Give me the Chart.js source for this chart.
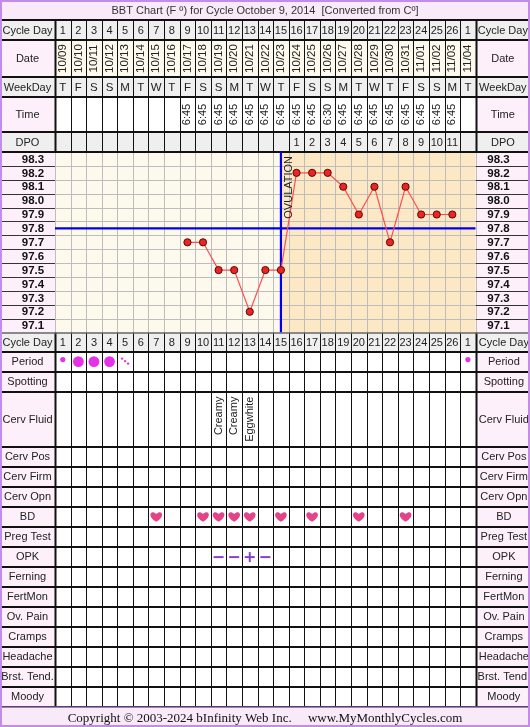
<!DOCTYPE html>
<html>
<head>
<meta charset="utf-8">
<title>BBT Chart</title>
<script src="https://cdn.jsdelivr.net/npm/chart.js@4.4.0/dist/chart.umd.min.js"></script>
<style>
    html, body { margin: 0; padding: 0; background: #fff; }
    canvas { display: block; }
</style>
</head>
<body>
<canvas id="bbtChart" width="530" height="727" style="width:530px;height:727px"></canvas>
<script>
// ============================================================================
// BBT CHART - Cycle October 9, 2014
// ============================================================================

// ---- data ----
const cycleDays = [1, 2, 3, 4, 5, 6, 7, 8, 9, 10, 11, 12, 13, 14, 15, 16, 17, 18, 19, 20, 21, 22, 23, 24, 25, 26, 1];
const dates = ["10/09", "10/10", "10/11", "10/12", "10/13", "10/14", "10/15", "10/16", "10/17", "10/18",
    "10/19", "10/20", "10/21", "10/22", "10/23", "10/24", "10/25", "10/26", "10/27", "10/28",
    "10/29", "10/30", "10/31", "11/01", "11/02", "11/03", "11/04"];
const weekDays = ["T", "F", "S", "S", "M", "T", "W", "T", "F", "S", "S", "M", "T", "W", "T", "F", "S", "S", "M", "T", "W", "T", "F", "S", "S", "M", "T"];
const times = ["", "", "", "", "", "", "", "", "6:45", "6:45", "6:45", "6:45", "6:45", "6:45", "6:45", "6:45",
    "6:45", "6:30", "6:45", "6:45", "6:45", "6:45", "6:45", "6:45", "6:45", "6:45", ""];
const dpo = ["", "", "", "", "", "", "", "", "", "", "", "", "", "", "", "1", "2", "3", "4", "5", "6", "7", "8", "9", "10", "11", ""];
const temps = [null, null, null, null, null, null, null, null, 97.7, 97.7, 97.5, 97.5, 97.2, 97.5, 97.5,
    98.2, 98.2, 98.2, 98.1, 97.9, 98.1, 97.7, 98.1, 97.9, 97.9, 97.9, null];
const tempTicks = [98.3, 98.2, 98.1, 98.0, 97.9, 97.8, 97.7, 97.6, 97.5, 97.4, 97.3, 97.2, 97.1];
const coverline = 97.8;
const ovulationDay = 15;

const period = ["light", "heavy", "heavy", "heavy", "spot", "", "", "", "", "", "", "", "", "", "",
    "", "", "", "", "", "", "", "", "", "", "", "light"];
const cervFluid = ["", "", "", "", "", "", "", "", "", "", "Creamy", "Creamy", "Eggwhite", "", "", "",
    "", "", "", "", "", "", "", "", "", "", ""];
const bd = [0, 0, 0, 0, 0, 0, 1, 0, 0, 1, 1, 1, 1, 0, 1, 0, 1, 0, 0, 1, 0, 0, 1, 0, 0, 0, 0];
const opk = ["", "", "", "", "", "", "", "", "", "", "-", "-", "+", "-", "", "", "", "", "", "", "", "", "", "", "", "", ""];

const lowerLabels = ["Cycle Day", "Period", "Spotting", "Cerv Fluid", "Cerv Pos", "Cerv Firm", "Cerv Opn", "BD",
    "Preg Test", "OPK", "Ferning", "FertMon", "Ov. Pain", "Cramps", "Headache", "Brst. Tend.", "Moody"];

const titleText = "BBT Chart (F \u00BA) for Cycle October 9, 2014  [Converted from C\u00BA]";
const footerText = "Copyright \u00A9 2003-2024 bInfinity Web Inc.     www.MyMonthlyCycles.com";

// ---- layout ----
const W = 530, H = 727;
const LABEL_W = 55;
const RIGHT_LABEL_X = 475.7;
const TITLE_H = 20;
const upperHeights = [20, 37, 20, 35, 20];
const lowerHeights = [19, 20, 20, 55, 20, 20, 20, 20, 20, 20, 20, 20, 20, 20, 20, 20, 20];
const PLOT_TOP = TITLE_H + upperHeights.reduce((a, b) => a + b, 0);
const PLOT_BOTTOM = 332.6;

const GRAY = "#efefef";
const LAV = "#fdf0fb";
const CREAM = "#fdf9ec";
const PEACH = "#fde8c6";
const PINK_HEAD = "#f8eaf8";
const PURPLE = "#c58be8";
const FONT = "'Liberation Sans', Arial, sans-serif";

function txt(ctx, s, x, y, font, color, rot) {
    ctx.save();
    ctx.font = font;
    ctx.fillStyle = color || "#222";
    ctx.textAlign = "center";
    ctx.textBaseline = "middle";
    ctx.translate(x, y);
    if (rot) ctx.rotate(-Math.PI / 2);
    ctx.fillText(s, 0, 0);
    ctx.restore();
}

function hline(ctx, x0, x1, y, w, color) {
    ctx.save();
    ctx.strokeStyle = color;
    ctx.lineWidth = w;
    ctx.beginPath();
    ctx.moveTo(x0, y);
    ctx.lineTo(x1, y);
    ctx.stroke();
    ctx.restore();
}

function vline(ctx, x, y0, y1, w, color) {
    ctx.save();
    ctx.strokeStyle = color;
    ctx.lineWidth = w;
    ctx.beginPath();
    ctx.moveTo(x, y0);
    ctx.lineTo(x, y1);
    ctx.stroke();
    ctx.restore();
}

function heart(ctx, cx, cy, s) {
    ctx.save();
    ctx.fillStyle = "#e4438a";
    ctx.beginPath();
    ctx.moveTo(cx, cy + s * 0.5);
    ctx.bezierCurveTo(cx - s * 0.95, cy - s * 0.05, cx - s * 0.5, cy - s * 0.75, cx, cy - s * 0.25);
    ctx.bezierCurveTo(cx + s * 0.5, cy - s * 0.75, cx + s * 0.95, cy - s * 0.05, cx, cy + s * 0.5);
    ctx.fill();
    ctx.restore();
}

function dot(ctx, x, y, r) {
    ctx.save();
    ctx.fillStyle = "#e632e6";
    ctx.beginPath();
    ctx.arc(x, y, r, 0, Math.PI * 2);
    ctx.fill();
    ctx.restore();
}

const tablePlugin = {
    id: "cycleTable",
    beforeDraw(chart) {
        const ctx = chart.ctx;
        const xs = chart.scales.x;
        const ys = chart.scales.y;
        const ca = chart.chartArea;
        const nDays = cycleDays.length;
        const cx = d => xs.getPixelForValue(d + 1);
        const edge = d => xs.getPixelForValue(d + 0.5);
        const rightMid = (RIGHT_LABEL_X + W) / 2;
        const labelFont = "11px " + FONT;

        ctx.save();
        ctx.fillStyle = "#fff";
        ctx.fillRect(0, 0, W, H);

        // title
        ctx.fillStyle = PINK_HEAD;
        ctx.fillRect(0, 0, W, TITLE_H);
        txt(ctx, titleText, W / 2, 10.5, "11px " + FONT, "#333");

        // upper table
        const upperRows = [
            { label: "Cycle Day", lbg: GRAY, bg: GRAY, vals: cycleDays, font: "11px " + FONT },
            { label: "Date", lbg: LAV, bg: CREAM, vals: dates, font: "11.5px " + FONT, rot: true },
            { label: "WeekDay", lbg: GRAY, bg: GRAY, vals: weekDays, font: "11.5px " + FONT },
            { label: "Time", lbg: LAV, bg: "#fff", vals: times, font: "11px " + FONT, rot: true },
            { label: "DPO", lbg: GRAY, bg: GRAY, vals: dpo, font: "11px " + FONT }
        ];
        let y = TITLE_H;
        const upperLines = [y];
        upperRows.forEach((row, r) => {
            const h = upperHeights[r];
            const mid = y + h / 2;
            ctx.fillStyle = row.lbg;
            ctx.fillRect(0, y, LABEL_W, h);
            ctx.fillRect(RIGHT_LABEL_X, y, W - RIGHT_LABEL_X, h);
            ctx.fillStyle = row.bg;
            ctx.fillRect(LABEL_W, y, RIGHT_LABEL_X - LABEL_W, h);
            txt(ctx, row.label, LABEL_W / 2, mid + 0.5, labelFont);
            txt(ctx, row.label, rightMid, mid + 0.5, labelFont);
            row.vals.forEach((v, d) => {
                if (v !== "" && v !== null) txt(ctx, String(v), cx(d), mid + (row.rot ? 0 : 0.5), row.font, "#222", row.rot);
            });
            y += h;
            upperLines.push(y);
        });

        // plot backgrounds
        const ovX = xs.getPixelForValue(ovulationDay);
        ctx.fillStyle = CREAM;
        ctx.fillRect(ca.left, ca.top, ovX - ca.left, ca.bottom - ca.top);
        ctx.fillStyle = PEACH;
        ctx.fillRect(ovX, ca.top, ca.right - ovX, ca.bottom - ca.top);
        ctx.fillStyle = LAV;
        ctx.fillRect(0, ca.top, LABEL_W, ca.bottom - ca.top);
        ctx.fillRect(RIGHT_LABEL_X, ca.top, W - RIGHT_LABEL_X, ca.bottom - ca.top);

        // plot grid
        for (let d = 0; d <= nDays; d++) {
            vline(ctx, Math.round(edge(d)) + 0.5, ca.top, ca.bottom, 1, "#bdbdbd");
        }
        tempTicks.forEach((t, i) => {
            const yy = ys.getPixelForValue(t);
            txt(ctx, t.toFixed(1), 33, yy + 0.5, "bold 11.5px " + FONT, "#111");
            txt(ctx, t.toFixed(1), 498.5, yy + 0.5, "bold 11.5px " + FONT, "#111");
            if (i > 0) {
                const yl = Math.round(ys.getPixelForValue(t + 0.05)) + 0.5;
                hline(ctx, ca.left, ca.right, yl, 1, "#bdbdbd");
                hline(ctx, 0, LABEL_W, yl, 1, "#333");
                hline(ctx, RIGHT_LABEL_X, W, yl, 1, "#333");
            }
        });

        // lower table
        y = ca.bottom;
        const lowerLines = [y];
        lowerLabels.forEach((label, r) => {
            const h = lowerHeights[r];
            const mid = y + h / 2;
            const isDay = r === 0;
            ctx.fillStyle = isDay ? GRAY : LAV;
            ctx.fillRect(0, y, LABEL_W, h);
            ctx.fillRect(RIGHT_LABEL_X, y, W - RIGHT_LABEL_X, h);
            ctx.fillStyle = isDay ? GRAY : "#fff";
            ctx.fillRect(LABEL_W, y, RIGHT_LABEL_X - LABEL_W, h);
            txt(ctx, label, LABEL_W / 2, mid + 0.5, labelFont);
            txt(ctx, label, rightMid + 1, mid + 0.5, labelFont);

            for (let d = 0; d < nDays; d++) {
                const x = cx(d);
                if (label === "Cycle Day") {
                    txt(ctx, String(cycleDays[d]), x, mid + 0.5, "11px " + FONT);
                } else if (label === "Period") {
                    if (period[d] === "light") dot(ctx, x, mid - 2, 2.6);
                    else if (period[d] === "heavy") dot(ctx, x, mid, 5.4);
                    else if (period[d] === "spot") {
                        dot(ctx, x - 3, mid - 3, 1.2);
                        dot(ctx, x, mid - 0.5, 1.2);
                        dot(ctx, x + 3, mid + 2, 1.2);
                    }
                } else if (label === "Cerv Fluid") {
                    if (cervFluid[d]) {
                        ctx.save();
                        ctx.font = "11px " + FONT;
                        ctx.fillStyle = "#222";
                        ctx.textAlign = "right";
                        ctx.textBaseline = "middle";
                        ctx.translate(x, y + 5);
                        ctx.rotate(-Math.PI / 2);
                        ctx.fillText(cervFluid[d], 0, 0);
                        ctx.restore();
                    }
                } else if (label === "BD") {
                    if (bd[d]) heart(ctx, x, mid, 10.5);
                } else if (label === "OPK") {
                    if (opk[d]) {
                        hline(ctx, x - 5, x + 5, mid + 0.5, 2, "#8a3fd0");
                        if (opk[d] === "+") vline(ctx, x, mid - 4.5, mid + 5.5, 2, "#8a3fd0");
                    }
                }
            }
            y += h;
            lowerLines.push(y);
        });

        // table lines
        for (let d = 0; d <= nDays; d++) {
            const x = Math.round(edge(d)) + 0.5;
            const w = (d === 0 || d === nDays) ? 2 : 1;
            vline(ctx, x, TITLE_H, PLOT_TOP, w, "#111");
            vline(ctx, x, ca.bottom, lowerLines[lowerLines.length - 1], w, "#111");
        }
        upperLines.forEach(yy => hline(ctx, 0, W, Math.round(yy), 2, "#111"));
        lowerLines.forEach((yy, i) => hline(ctx, 0, W, Math.round(yy), i === 0 ? 1.5 : 2, i === 0 ? "#666" : "#111"));

        // footer
        const fy = lowerLines[lowerLines.length - 1] + 1;
        ctx.fillStyle = PINK_HEAD;
        ctx.fillRect(0, fy, W, H - fy);
        txt(ctx, footerText, W / 2, (fy + H) / 2 + 1, "13px 'Liberation Serif', 'Times New Roman', serif", "#111");

        // outer border
        ctx.strokeStyle = PURPLE;
        ctx.lineWidth = 2;
        ctx.strokeRect(1, 1, W - 2, H - 2);
        hline(ctx, 0, W, fy - 0.5, 1, PURPLE);
        ctx.restore();
    },
    afterDraw(chart) {
        const ctx = chart.ctx;
        const xs = chart.scales.x;
        const ys = chart.scales.y;
        ctx.save();
        ctx.font = "11px " + FONT;
        ctx.fillStyle = "#222";
        ctx.textAlign = "left";
        ctx.textBaseline = "middle";
        ctx.translate(xs.getPixelForValue(ovulationDay) + 8, ys.getPixelForValue(97.87));
        ctx.rotate(-Math.PI / 2);
        ctx.fillText("OVULATION", 0, 0);
        ctx.restore();
    }
};

const ctx = document.getElementById("bbtChart").getContext("2d");
new Chart(ctx, {
    type: "line",
    data: {
        datasets: [
            {
                label: "BBT",
                data: temps.map((t, i) => ({ x: i + 1, y: t })),
                borderColor: "#ff4d4d",
                borderWidth: 1.2,
                pointRadius: 3.6,
                pointBackgroundColor: "#ec2424",
                pointBorderColor: "#5a0808",
                pointBorderWidth: 1,
                spanGaps: false,
                tension: 0,
                order: 0
            },
            {
                label: "Coverline",
                data: [{ x: 0.5, y: coverline }, { x: cycleDays.length + 0.5, y: coverline }],
                borderColor: "#0000ee",
                borderWidth: 2.2,
                pointRadius: 0,
                order: 1
            },
            {
                label: "Ovulation",
                data: [{ x: ovulationDay, y: 97.05 }, { x: ovulationDay, y: 98.35 }],
                borderColor: "#0000ee",
                borderWidth: 2.2,
                pointRadius: 0,
                order: 2
            }
        ]
    },
    options: {
        responsive: false,
        animation: false,
        events: [],
        layout: { padding: { left: LABEL_W, right: W - RIGHT_LABEL_X, top: PLOT_TOP, bottom: H - PLOT_BOTTOM } },
        scales: {
            x: { type: "linear", min: 0.5, max: cycleDays.length + 0.5, display: false },
            y: { type: "linear", min: 97.05, max: 98.35, display: false }
        },
        plugins: { legend: { display: false }, tooltip: { enabled: false } }
    },
    plugins: [tablePlugin]
});
</script>
</body>
</html>
